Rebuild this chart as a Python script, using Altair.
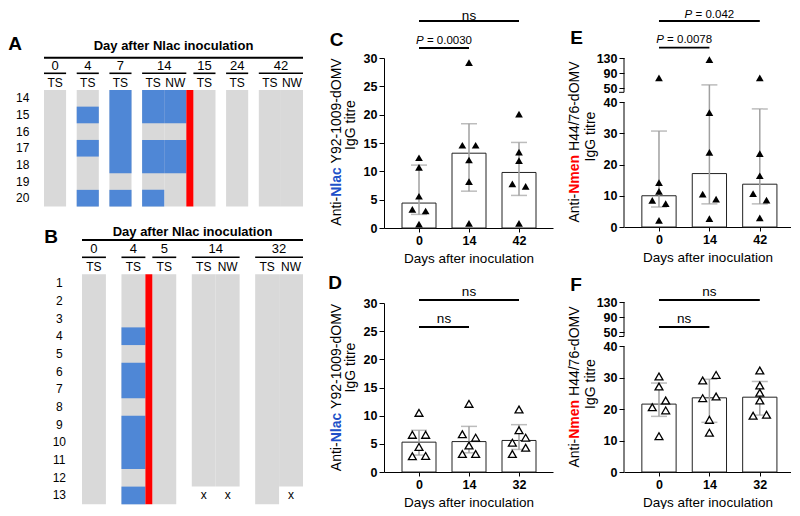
import altair as alt
import pandas as pd

FONT = "Liberation Sans"
GRAY = "#d9d9d9"
BLUE = "#4f87d6"
RED = "#ff0000"
NLAC_COLOR = "#2050c8"
NMEN_COLOR = "#ff0000"

# ---------------- Panel A data ----------------
A_days = ["0", "4", "7", "14", "15", "24", "42"]
A_samples = [["TS"], ["TS"], ["TS"], ["TS", "NW"], ["TS"], ["TS"], ["TS", "NW"]]
A_volunteers = [14, 15, 16, 17, 18, 19, 20]
A_pos_day = ["4", "7", "14", "14"]
A_pos_sample = ["TS", "TS", "TS", "NW"]
A_pos_volunteers = [[15, 17, 20], [14, 15, 16, 17, 18, 20], [14, 15, 17, 18, 20], [14, 15, 17, 18]]
A_mis_day = []
A_mis_sample = []
A_mis_volunteers = []
A_treated_after = "14"

# ---------------- Panel B data ----------------
B_days = ["0", "4", "5", "14", "32"]
B_samples = [["TS"], ["TS"], ["TS"], ["TS", "NW"], ["TS", "NW"]]
B_volunteers = list(range(1, 14))
B_pos_day = ["4"]
B_pos_sample = ["TS"]
B_pos_volunteers = [[4, 6, 7, 9, 10, 11, 13]]
B_mis_day = ["14", "14", "32"]
B_mis_sample = ["TS", "NW", "NW"]
B_mis_volunteers = [[13], [13], [13]]
B_treated_after = "4"

HEADER = "Day after Nlac inoculation"

# ---------------- Panels C-F data ----------------
C_days = ["0", "14", "42"]
C_values = [[12.4, 10.7, 5.6, 3.3, 3.0, 0.7], [29.2, 14.6, 14.6, 12.0, 8.2, 0.8], [20.1, 13.4, 11.9, 7.8, 7.35, 0.8]]
C_jitter = [[0, 0, 0, -1, 1, 0], [0, -1, 1, 0, 0, 0], [0, 0, 0, -1, 1, 0]]
C_mean = [4.4, 13.2, 9.8]
C_lo = [2.4, 6.5, 5.75]
C_hi = [11.1, 18.4, 15.1]
C_sig_from = ["0", "0"]
C_sig_to = ["14", "42"]
C_sig_text = ["P = 0.0030", "ns"]

D_days = ["0", "14", "32"]
D_values = [[10.5, 6.6, 6.6, 4.45, 2.8, 2.85], [12.1, 6.7, 6.1, 4.7, 3.2, 3.2], [11.1, 7.4, 6.1, 5.2, 4.3, 3.2]]
D_jitter = [[0, -1, 1, 0, -1, 1], [0, -1, 1, 0, -1, 1], [0, 0, 1, -1, 1, -1]]
D_mean = [5.3, 5.4, 5.6]
D_lo = [3.0, 3.4, 4.0]
D_hi = [7.4, 8.1, 8.4]
D_sig_from = ["0", "0"]
D_sig_to = ["14", "32"]
D_sig_text = ["ns", "ns"]

E_days = ["0", "14", "42"]
E_values = [[77.6, 14.2, 11.4, 8.5, 7.5, 2.1], [125.6, 36.6, 23.9, 10.5, 8.9, 2.7], [77.6, 23.5, 16.4, 10.7, 8.6, 2.9]]
E_jitter = [[0, 0, 0, -1, 1, 0], [0, 0, 0, -1, 1, 0], [0, 0, 0, -1, 1, 0]]
E_mean = [10.0, 17.1, 13.7]
E_lo = [6.4, 7.4, 7.4]
E_hi = [30.7, 58.9, 37.8]
E_sig_from = ["0", "0"]
E_sig_to = ["14", "42"]
E_sig_text = ["P = 0.0078", "P = 0.042"]

F_days = ["0", "14", "32"]
F_values = [[30.4, 27.2, 22.75, 20.6, 19.6, 11.4], [30.9, 29.1, 24.0, 23.5, 16.6, 12.5], [32.3, 27.5, 25.2, 22.75, 18.2, 17.9]]
F_jitter = [[0, 0, 1, -1, 1, 0], [1, -1, 1, -1, 0, 0], [0, 0, 0, 0, 1, -1]]
F_mean = [21.6, 23.6, 23.8]
F_lo = [17.7, 15.8, 18.1]
F_hi = [28.3, 29.5, 28.8]
F_sig_from = ["0", "0"]
F_sig_to = ["14", "32"]
F_sig_text = ["ns", "ns"]

# ---------------- helpers ----------------
REG = {" ": 278, "-": 333, ".": 278, "/": 278, "=": 584, "0": 556, "1": 556, "2": 556, "3": 556,
       "4": 556, "5": 556, "6": 556, "7": 556, "8": 556, "9": 556, "A": 667, "H": 722, "M": 833,
       "O": 778, "P": 667, "V": 667, "Y": 667, "d": 556, "i": 222, "n": 556, "s": 500, "t": 278,
       "I": 278, "g": 556, "G": 778, "r": 333, "e": 556}
BOLD = {" ": 278, "N": 722, "a": 556, "c": 556, "e": 556, "l": 278, "m": 889, "n": 611}

NOVIEW = alt.ViewBackground(stroke="transparent", strokeWidth=0, fill="transparent")


def W(s, fs, bold=False):
    tab = BOLD if bold else REG
    return sum(tab.get(ch, 556) for ch in s) * fs / 1000.0


def piece_layout(parts, fs):
    out, pos = [], 0.0
    for text, bold, italic, color in parts:
        lead = len(text) - len(text.lstrip(" "))
        pos += lead * W(" ", fs, bold)
        s = text.strip(" ")
        out.append((s, pos, bold, italic, color))
        pos += W(s, fs, bold)
        trail = len(text) - len(text.rstrip(" "))
        pos += trail * W(" ", fs, bold)
    return out, pos


def one(text):
    return pd.DataFrame({"t": [text]})


def frame_layer(fx0, fy0, fx1, fy1, pl, pt):
    return alt.Chart(one("")).mark_rect(opacity=0, fillOpacity=0, strokeOpacity=0, strokeWidth=0).encode(
        x=alt.value(fx0 - pl), x2=alt.value(fx1 - pl), y=alt.value(fy0 - pt), y2=alt.value(fy1 - pt))


def runs(flags):
    out, start = [], None
    for i, f in enumerate(list(flags) + [False]):
        if f and start is None:
            start = i
        if not f and start is not None:
            out.append((start, i))
            start = None
    return out


def heatmap(letter, days, samples, vols, pos_day, pos_sample, pos_vols,
            mis_day, mis_sample, mis_vols, treated_after, g):
    cols, spans, cur, red0 = [], [], 0.0, None
    for i, d in enumerate(days):
        if i > 0:
            if days[i - 1] == treated_after:
                red0 = cur
                cur += g["red"]
            else:
                cur += g["gap"]
        s0 = cur
        for s in samples[i]:
            cols.append((d, s, cur))
            cur += 1.0
        spans.append((d, s0, cur))
    total = cur
    px0, py0, px1, py1 = g["plot"]
    kx = (g["right"] - g["left"]) / total
    nrow = len(vols)
    ky = (g["bottom"] - g["top"]) / nrow

    def ux(px):
        return (px - g["left"]) / kx

    def uy(py):
        return (py - g["top"]) / ky

    xs = alt.Scale(domain=[ux(px0), ux(px1)], nice=False, zero=False)
    ys = alt.Scale(domain=[uy(py0), uy(py1)], nice=False, zero=False, reverse=True)

    def X(f):
        return alt.X(f, type="quantitative", scale=xs, axis=None)

    def Y(f):
        return alt.Y(f, type="quantitative", scale=ys, axis=None)

    pos = {(d, s): set(v) for d, s, v in zip(pos_day, pos_sample, pos_vols)}
    mis = {(d, s): set(v) for d, s, v in zip(mis_day, mis_sample, mis_vols)}
    gray, blue, xm = [], [], []
    for d, s, x0 in cols:
        m = mis.get((d, s), set())
        p = pos.get((d, s), set())
        for a, b in runs([v not in m for v in vols]):
            gray.append(dict(x0=x0, x1=x0 + 1, y0=a, y1=b))
        for a, b in runs([v in p for v in vols]):
            blue.append(dict(x0=x0, x1=x0 + 1, y0=a, y1=b))
        for r, v in enumerate(vols):
            if v in m:
                xm.append(dict(x=x0 + 0.5, y=r + 0.5, t="x"))

    def rects(rows, color):
        return alt.Chart(pd.DataFrame(rows)).mark_rect(color=color, strokeWidth=0).encode(
            x=X("x0"), x2=alt.X2("x1"), y=Y("y0"), y2=alt.Y2("y1"))

    fx0, fy0, fx1, fy1 = g["frame"]
    layers = [frame_layer(fx0, fy0, fx1, fy1, px0, py0),
              rects(gray, GRAY), rects(blue, BLUE),
              rects([dict(x0=red0, x1=red0 + g["red"], y0=0, y1=nrow)], RED)]

    long_line = pd.DataFrame([dict(x0=0, x1=total, y=uy(g["line_y"]))])
    layers.append(alt.Chart(long_line).mark_rule(color="black", strokeWidth=2).encode(
        x=X("x0"), x2=alt.X2("x1"), y=Y("y")))
    short = pd.DataFrame([dict(x0=a, x1=b, y=uy(g["short_y"])) for d, a, b in spans])
    layers.append(alt.Chart(short).mark_rule(color="black", strokeWidth=1.6).encode(
        x=X("x0"), x2=alt.X2("x1"), y=Y("y")))

    def texts(rows, fs, weight="normal"):
        return alt.Chart(pd.DataFrame(rows)).mark_text(
            font=FONT, fontSize=fs, fontWeight=weight, color="black",
            align="center", baseline="middle").encode(x=X("x"), y=Y("y"), text="t:N")

    layers.append(texts([dict(x=total / 2, y=uy(g["title_y"]), t=HEADER)], 13, "bold"))
    layers.append(texts([dict(x=(a + b) / 2, y=uy(g["day_y"]), t=d) for d, a, b in spans], 13))
    layers.append(texts([dict(x=x0 + 0.5, y=uy(g["samp_y"]), t=s) for d, s, x0 in cols], 12))
    layers.append(texts([dict(x=ux(g["rowlab_x"]), y=r + 0.5, t=str(v)) for r, v in enumerate(vols)], 12))
    if xm:
        layers.append(texts(xm, 12))
    layers.append(texts([dict(x=ux(g["letter"][0]), y=uy(g["letter"][1]), t=letter)], 19, "bold"))

    return alt.layer(*layers).properties(width=px1 - px0, height=py1 - py0, view=NOVIEW)


GAP_U = 4.4
K_UP = 0.121


def brk(v):
    return v if v <= 40 else 40 + GAP_U + (v - 50) * K_UP


JIT = 0.133
HALF = 0.34


def bar_panel(letter, days, values, jitter, mean, lo, hi, sig_from, sig_to, sig_text,
              antigen, antigen_color, strain, filled, broken, g):
    tf = brk if broken else (lambda v: v)
    ymax = brk(130) if broken else 30
    xs = alt.Scale(domain=g["xdom"], nice=False, zero=False)
    ys = alt.Scale(domain=[0, ymax], nice=False, zero=False)
    if broken:
        yvals = [tf(v) for v in [0, 10, 20, 30, 40, 50, 90, 130]]
        lexpr = ("datum.value > 42 ? '' + round(50 + (datum.value - %s) / %s) : '' + round(datum.value)"
                 % (40 + GAP_U, K_UP))
    else:
        yvals = [0, 5, 10, 15, 20, 25, 30]
        lexpr = "'' + round(datum.value)"
    yaxis = alt.Axis(values=yvals, labelExpr=lexpr, domain=not broken, grid=False, tickSize=5,
                     tickColor="black", domainColor="black", tickWidth=1, domainWidth=1,
                     labelFont=FONT, labelFontSize=12.5, labelFontWeight="bold", labelColor="black",
                     labelPadding=2, labelFlush=False, labelOverlap=False, title=None)
    xexpr = "[" + ",".join("'%s'" % d for d in days) + "][round(datum.value)]"
    xaxis = alt.Axis(values=[0, 1, 2], labelExpr=xexpr, grid=False, tickSize=4, tickColor="black",
                     domainColor="black", tickWidth=1, domainWidth=1, labelAngle=0,
                     labelFont=FONT, labelFontSize=12.5, labelFontWeight="bold", labelColor="black",
                     labelPadding=2, labelFlush=False, title="Days after inoculation",
                     titleFont=FONT, titleFontSize=13.5, titleFontWeight="normal", titleColor="black",
                     titlePadding=5)

    def X(f):
        return alt.X(f, type="quantitative", scale=xs, axis=xaxis)

    def Y(f):
        return alt.Y(f, type="quantitative", scale=ys, axis=yaxis)

    pl, pt = g["left"], g["top"]
    fx0, fy0, fx1, fy1 = g["frame"]
    layers = [frame_layer(fx0, fy0, fx1, fy1, pl, pt)]

    bars = pd.DataFrame([dict(x0=i - HALF, x1=i + HALF, y0=0, y1=tf(m)) for i, m in enumerate(mean)])
    layers.append(alt.Chart(bars).mark_rect(fill="white", stroke="#222222", strokeWidth=1).encode(
        x=X("x0"), x2=alt.X2("x1"), y=Y("y0"), y2=alt.Y2("y1")))

    err = pd.DataFrame([dict(x=i, lo=tf(a), hi=tf(b)) for i, (a, b) in enumerate(zip(lo, hi))])
    layers.append(alt.Chart(err).mark_rule(color="#a0a0a0", strokeWidth=1.5).encode(
        x=X("x"), y=Y("lo"), y2=alt.Y2("hi")))
    for f in ["lo", "hi"]:
        layers.append(alt.Chart(err).mark_tick(color="#a0a0a0", orient="horizontal", size=16,
                                               thickness=1.5).encode(x=X("x"), y=Y(f)))

    pts = pd.DataFrame([dict(x=i + j * JIT, y=tf(v))
                        for i, (vals, jits) in enumerate(zip(values, jitter))
                        for v, j in zip(vals, jits)])
    if filled:
        pm = alt.Chart(pts).mark_point(shape="triangle-up", filled=True, color="black", size=60, opacity=1)
    else:
        pm = alt.Chart(pts).mark_point(shape="triangle-up", filled=True, fill="white", stroke="black",
                                       strokeWidth=1.3, size=62, opacity=1)
    layers.append(pm.encode(x=X("x"), y=Y("y")))

    if broken:
        seg = pd.DataFrame([dict(a=0, b=40), dict(a=brk(50) - 1.3, b=brk(130))])
        layers.append(alt.Chart(seg).mark_rule(color="black", strokeWidth=1).encode(
            x=alt.value(0), y=Y("a"), y2=alt.Y2("b")))
        tick = pd.DataFrame([dict(a=brk(50) - 1.3)])
        layers.append(alt.Chart(tick).mark_rule(color="black", strokeWidth=1).encode(
            x=alt.value(-5), x2=alt.value(0), y=Y("a")))

    top_rel = fy0 - pt
    for a, b, txt, ypx in zip(sig_from, sig_to, sig_text, g["sig_px"]):
        ia, ib = days.index(a), days.index(b)
        sdf = pd.DataFrame([dict(x0=ia, x1=ib, xm=(ia + ib) / 2)])
        layers.append(alt.Chart(sdf).mark_rule(color="black", strokeWidth=1.8).encode(
            x=X("x0"), x2=alt.X2("x1"), y=alt.value(ypx)))
        if txt.startswith("P"):
            fs = 11.5
            pieces, tot = piece_layout([("P", False, True, "black"), (txt[1:], False, False, "black")], fs)
        else:
            fs = 13.5
            pieces, tot = piece_layout([(txt, False, False, "black")], fs)
        base = max(ypx - 4.5, top_rel + round(0.8 * fs) + 0.5)
        for s, off, bold, italic, color in pieces:
            tdf = pd.DataFrame([dict(xm=(ia + ib) / 2, t=s)])
            layers.append(alt.Chart(tdf).mark_text(
                font=FONT, fontSize=fs, fontStyle="italic" if italic else "normal",
                fontWeight="bold" if bold else "normal", color=color, align="left",
                baseline="alphabetic", dx=off - tot / 2).encode(
                x=X("xm"), y=alt.value(base), text="t:N"))

    # rotated y title, line 1 (multi-colour) and line 2
    tfs = 14
    for parts, (xr, yc) in [([("Anti-", False, False, "black"), (antigen, True, False, antigen_color),
                              (" " + strain, False, False, "black")], g["t1"]),
                            ([("IgG titre", False, False, "black")], g["t2"])]:
        pieces, tot = piece_layout(parts, tfs)
        y0 = yc + tot / 2
        for s, off, bold, italic, color in pieces:
            layers.append(alt.Chart(one(s)).mark_text(
                font=FONT, fontSize=tfs, fontWeight="bold" if bold else "normal", color=color,
                angle=270, align="left", baseline="middle").encode(
                text="t:N", x=alt.value(xr), y=alt.value(y0 - off)))

    layers.append(alt.Chart(one(letter)).mark_text(
        font=FONT, fontSize=19, fontWeight="bold", color="black", align="center",
        baseline="middle").encode(text="t:N", x=alt.value(g["letter"][0]), y=alt.value(g["letter"][1])))

    return alt.layer(*layers).properties(width=g["width"], height=g["height"], view=NOVIEW)


# layout (page pixels): first-row plot origins share y = 58
gA = dict(frame=(8, 8, 314, 216), plot=(8, 58, 314, 216), left=43, right=302, top=90, bottom=206.5,
          gap=0.48, red=0.32, title_y=46, line_y=57.7, day_y=65.7, short_y=73.3, samp_y=82.7,
          rowlab_x=21.7, letter=(14, 44))
gB = dict(frame=(8, 216, 314, 506), plot=(8, 216, 314, 506), left=81, right=302, top=274.3, bottom=504.3,
          gap=0.65, red=0.29, title_y=231.5, line_y=240, day_y=249.3, short_y=257.3, samp_y=266.7,
          rowlab_x=58.3, letter=(50, 237))

gC = dict(left=383, top=58, width=169, height=170, frame=(314, 8, 556, 272), xdom=[-0.70, 2.68],
          t1=(-47, 84), t2=(-33, 67), letter=(-47.5, -18), sig_px=[-10, -37])
gD = dict(left=383, top=303, width=169, height=169, frame=(314, 272, 556, 506), xdom=[-0.70, 2.68],
          t1=(-47, 84.5), t2=(-33, 64.5), letter=(-49, -20), sig_px=[24, -3])
gE = dict(left=623, top=58, width=167, height=169, frame=(556, 8, 790, 272), xdom=[-0.694, 2.619],
          t1=(-49, 84), t2=(-33, 78.5), letter=(-47.5, -20), sig_px=[-10.3, -37])
gF = dict(left=623, top=302, width=167, height=170, frame=(556, 272, 790, 506), xdom=[-0.694, 2.619],
          t1=(-49, 85), t2=(-33, 82), letter=(-48, -17), sig_px=[25, -2])

A = heatmap("A", A_days, A_samples, A_volunteers, A_pos_day, A_pos_sample, A_pos_volunteers,
            A_mis_day, A_mis_sample, A_mis_volunteers, A_treated_after, gA)
B = heatmap("B", B_days, B_samples, B_volunteers, B_pos_day, B_pos_sample, B_pos_volunteers,
            B_mis_day, B_mis_sample, B_mis_volunteers, B_treated_after, gB)
C = bar_panel("C", C_days, C_values, C_jitter, C_mean, C_lo, C_hi, C_sig_from, C_sig_to, C_sig_text,
              "Nlac", NLAC_COLOR, "Y92-1009-dOMV", True, False, gC)
D = bar_panel("D", D_days, D_values, D_jitter, D_mean, D_lo, D_hi, D_sig_from, D_sig_to, D_sig_text,
              "Nlac", NLAC_COLOR, "Y92-1009-dOMV", False, False, gD)
E = bar_panel("E", E_days, E_values, E_jitter, E_mean, E_lo, E_hi, E_sig_from, E_sig_to, E_sig_text,
              "Nmen", NMEN_COLOR, "H44/76-dOMV", True, True, gE)
F = bar_panel("F", F_days, F_values, F_jitter, F_mean, F_lo, F_hi, F_sig_from, F_sig_to, F_sig_text,
              "Nmen", NMEN_COLOR, "H44/76-dOMV", False, True, gF)

chart = alt.hconcat(
    alt.vconcat(A, B, spacing=0),
    alt.vconcat(C, D, spacing=0),
    alt.vconcat(E, F, spacing=0),
    spacing=0,
).properties(padding=0).configure_view(strokeWidth=0, stroke="transparent").configure(
    font=FONT, background="white")

chart.save("out.html", embed_options={"renderer": "svg", "actions": False})
